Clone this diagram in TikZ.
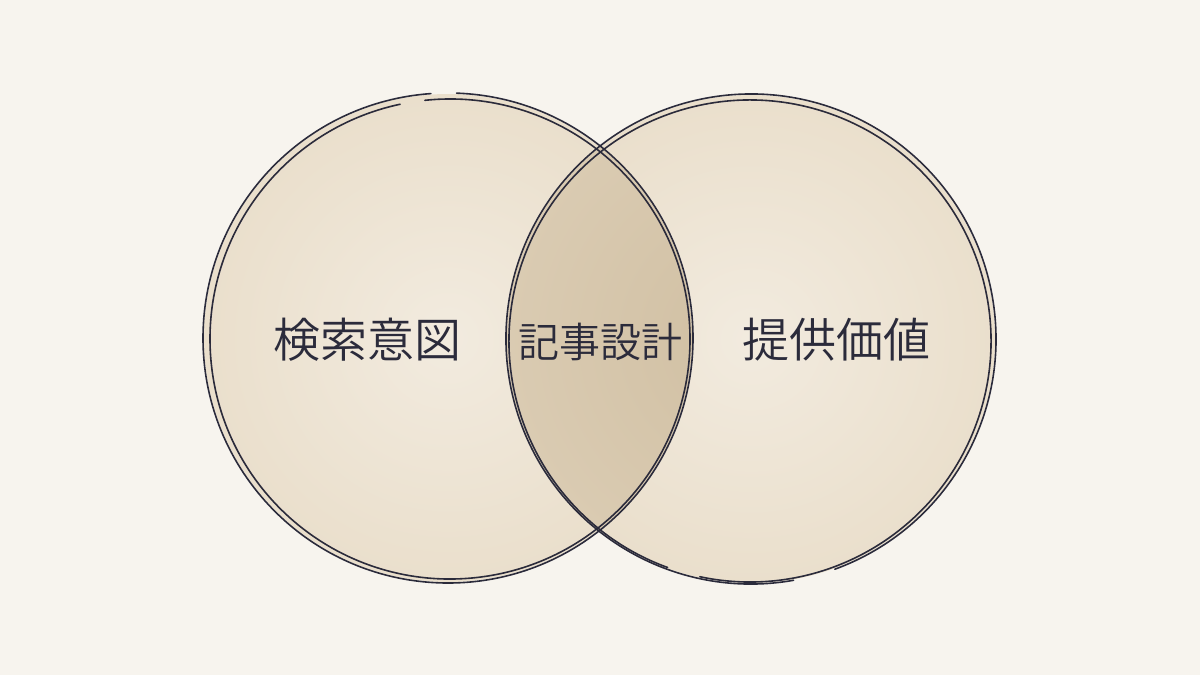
\documentclass[tikz,border=0pt]{standalone}
\usepackage{fontspec}
\usetikzlibrary{calc}
\newfontfamily\jpfont[UprightFont={* DemiLight}]{Noto Sans CJK JP}
\definecolor{bg}{HTML}{F7F4EE}
\definecolor{washedge}{HTML}{EADFCC}
\definecolor{washin}{HTML}{F2EBDF}
\definecolor{lens}{HTML}{DACBB2}
\definecolor{lensin}{HTML}{D0BFA2}
\definecolor{ink}{HTML}{2B2B3B}
\tikzset{
  pen/.style={draw=ink, line width=1.6pt, line cap=round},
  label/.style={text=ink, font=\jpfont\fontsize{47}{52}\selectfont, inner sep=0pt},
  midlabel/.style={text=ink, font=\jpfont\fontsize{41}{46}\selectfont, inner sep=0pt}
}
\begin{document}
\begin{tikzpicture}[x=1pt,y=-1pt]
\useasboundingbox (0,0) rectangle (1200,675);
\fill[bg] (0,0) rectangle (1200,675);
\coordinate (L) at (448,338);
\coordinate (R) at (751,339);
\coordinate (L2) at (450,339);
\coordinate (R2) at (750,341);
% washes
\shade[inner color=washin, outer color=washedge] (L) circle[radius=244];
\shade[inner color=washin, outer color=washedge] (R) circle[radius=244];
\begin{scope}
  \clip (L) circle[radius=244];
  \shade[inner color=lensin, outer color=lens] (R) circle[radius=244];
\end{scope}
% hand-drawn double strokes, left circle (gap at the top)
\draw[pen] (L) ++(-88:245) arc[start angle=-88, end angle=266, radius=245];
\draw[pen] (L2) ++(-96:240) arc[start angle=-96, end angle=258, radius=240];
% right circle (gap at the bottom)
\draw[pen] (R) ++(80:245) arc[start angle=80, end angle=430, radius=245];
\draw[pen] (R2) ++(110:241) arc[start angle=110, end angle=462, radius=241];
% labels
\node[label] (intent) at (367,340) {検索意図};
\node[midlabel] (design) at (600,342) {記事設計};
\node[label] (value) at (836,340) {提供価値};
\end{tikzpicture}
\end{document}
